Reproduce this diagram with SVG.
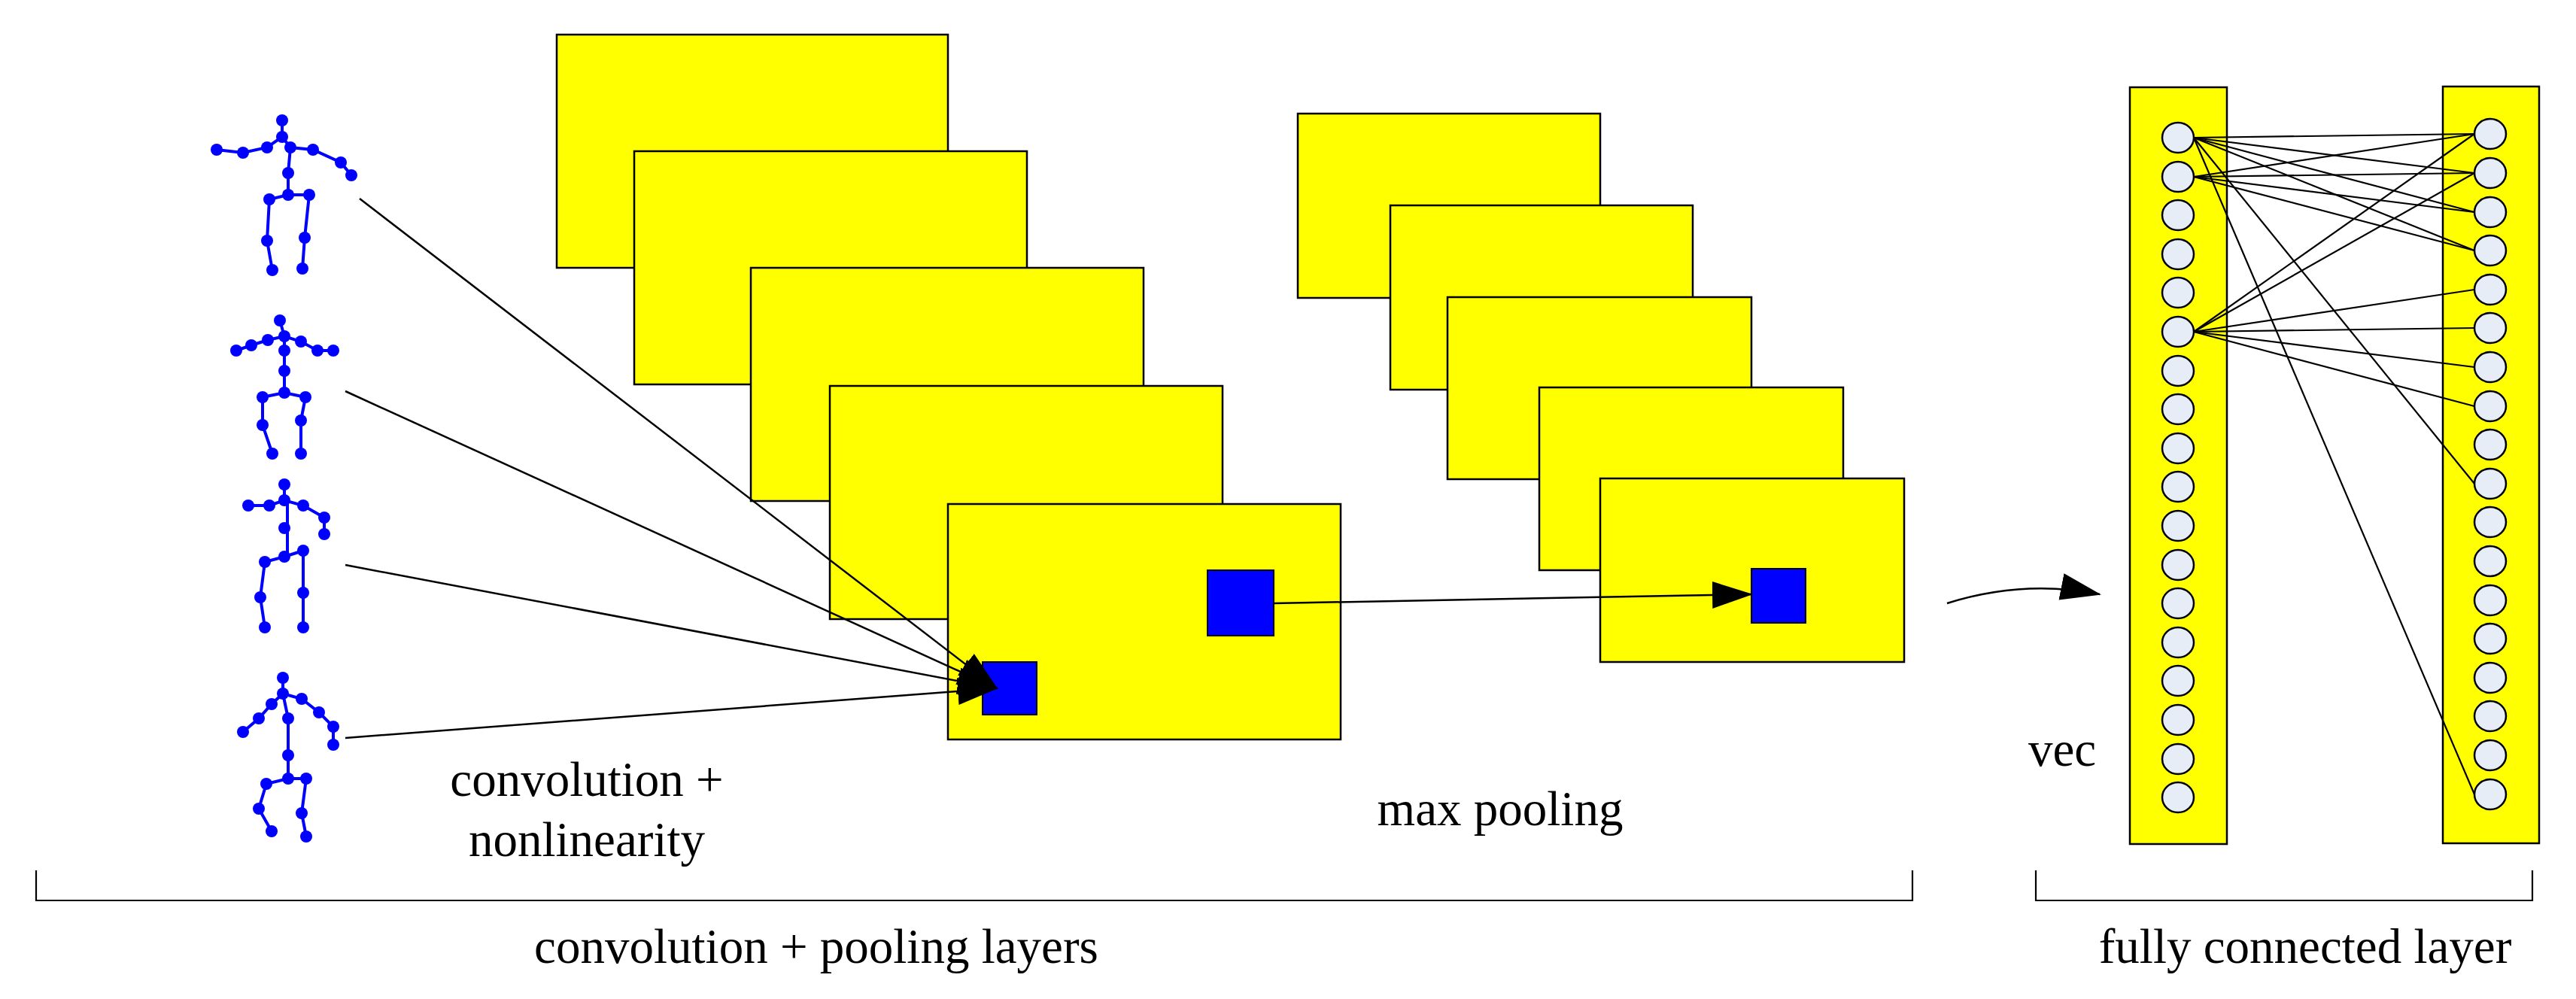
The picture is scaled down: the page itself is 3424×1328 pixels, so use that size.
<svg xmlns="http://www.w3.org/2000/svg" width="3424" height="1328" viewBox="0 0 3424 1328">
<style>
.map{fill:#ffff00;stroke:#000;stroke-width:2.5}
.sq{fill:#0000ff;stroke:#000;stroke-width:2}
.ln{stroke:#000;stroke-width:2.5;fill:none}
.fl{stroke:#000;stroke-width:2.2;fill:none}
.neu{fill:#e6edf7;stroke:#000;stroke-width:2.5}
.sk{stroke:#0000ff;stroke-width:4;fill:none}
.j{fill:#0000ff}
text{font-family:"Liberation Serif",serif;font-size:65px;fill:#000}
</style>
<defs>
<marker id="ah" markerUnits="userSpaceOnUse" markerWidth="60" markerHeight="40" refX="52" refY="18" orient="auto">
<path d="M0,0 L54,18 L0,36 z" fill="#000"/>
</marker>
</defs>

<g id="skeleton1">
<polyline class="sk" points="375,160 375,182 355,196 323,203 288,199"/>
<polyline class="sk" points="375,182 386,196 416,199 453,216 467,233"/>
<polyline class="sk" points="386,196 383,230 383,259"/>
<polyline class="sk" points="411,259 383,259 358,265 355,320 362,359"/>
<polyline class="sk" points="411,259 405,316 402,357"/>
<g class="j"><circle cx="375" cy="160" r="8"/><circle cx="375" cy="182" r="8"/><circle cx="355" cy="196" r="8"/><circle cx="323" cy="203" r="8"/><circle cx="288" cy="199" r="8"/><circle cx="386" cy="196" r="8"/><circle cx="416" cy="199" r="8"/><circle cx="453" cy="216" r="8"/><circle cx="467" cy="233" r="8"/><circle cx="383" cy="230" r="8"/><circle cx="383" cy="259" r="8"/><circle cx="358" cy="265" r="8"/><circle cx="355" cy="320" r="8"/><circle cx="362" cy="359" r="8"/><circle cx="411" cy="259" r="8"/><circle cx="405" cy="316" r="8"/><circle cx="402" cy="357" r="8"/></g>
</g>
<g id="skeleton2">
<polyline class="sk" points="372,426 378,447"/>
<polyline class="sk" points="314,466 334,459 356,452 378,447 400,454 422,466 443,466"/>
<polyline class="sk" points="378,447 378,466 378,493 378,522"/>
<polyline class="sk" points="406,528 378,522 349,528 349,565 362,603"/>
<polyline class="sk" points="406,528 400,559 400,603"/>
<g class="j"><circle cx="372" cy="426" r="8"/><circle cx="378" cy="447" r="8"/><circle cx="356" cy="452" r="8"/><circle cx="334" cy="459" r="8"/><circle cx="314" cy="466" r="8"/><circle cx="400" cy="454" r="8"/><circle cx="422" cy="466" r="8"/><circle cx="443" cy="466" r="8"/><circle cx="378" cy="466" r="8"/><circle cx="378" cy="493" r="8"/><circle cx="378" cy="522" r="8"/><circle cx="349" cy="528" r="8"/><circle cx="349" cy="565" r="8"/><circle cx="362" cy="603" r="8"/><circle cx="406" cy="528" r="8"/><circle cx="400" cy="559" r="8"/><circle cx="400" cy="603" r="8"/></g>
</g>
<g id="skeleton3">
<polyline class="sk" points="378,644 378,665"/>
<polyline class="sk" points="330,672 358,672 378,665 403,672 431,688 431,710"/>
<polyline class="sk" points="382,665 382,702 382,740"/>
<polyline class="sk" points="403,732 378,740 352,747 346,794 352,834"/>
<polyline class="sk" points="403,732 403,788 403,834"/>
<g class="j"><circle cx="378" cy="644" r="8"/><circle cx="378" cy="665" r="8"/><circle cx="358" cy="672" r="8"/><circle cx="330" cy="672" r="8"/><circle cx="403" cy="672" r="8"/><circle cx="431" cy="688" r="8"/><circle cx="431" cy="710" r="8"/><circle cx="378" cy="702" r="8"/><circle cx="378" cy="740" r="8"/><circle cx="352" cy="747" r="8"/><circle cx="346" cy="794" r="8"/><circle cx="352" cy="834" r="8"/><circle cx="403" cy="732" r="8"/><circle cx="403" cy="788" r="8"/><circle cx="403" cy="834" r="8"/></g>
</g>
<g id="skeleton4">
<polyline class="sk" points="376,901 376,922"/>
<polyline class="sk" points="323,973 344,955 361,936 376,922 401,929 424,947 443,966 443,990"/>
<polyline class="sk" points="376,922 383,955 383,1004 383,1035"/>
<polyline class="sk" points="407,1035 383,1035 354,1042 344,1075 361,1105"/>
<polyline class="sk" points="407,1035 401,1081 407,1112"/>
<g class="j"><circle cx="376" cy="901" r="8"/><circle cx="376" cy="922" r="8"/><circle cx="361" cy="936" r="8"/><circle cx="344" cy="955" r="8"/><circle cx="323" cy="973" r="8"/><circle cx="401" cy="929" r="8"/><circle cx="424" cy="947" r="8"/><circle cx="443" cy="966" r="8"/><circle cx="443" cy="990" r="8"/><circle cx="383" cy="955" r="8"/><circle cx="383" cy="1004" r="8"/><circle cx="383" cy="1035" r="8"/><circle cx="354" cy="1042" r="8"/><circle cx="344" cy="1075" r="8"/><circle cx="361" cy="1105" r="8"/><circle cx="407" cy="1035" r="8"/><circle cx="401" cy="1081" r="8"/><circle cx="407" cy="1112" r="8"/></g>
</g>

<g id="conv-maps">
<rect class="map" x="740" y="46" width="520" height="310"/>
<rect class="map" x="843" y="201" width="522" height="310"/>
<rect class="map" x="998" y="356" width="522" height="310"/>
<rect class="map" x="1103" y="513" width="522" height="310"/>
<rect class="map" x="1260" y="670" width="522" height="313"/>
<rect class="sq" x="1306" y="880" width="72" height="70"/>
<rect class="sq" x="1605" y="758" width="88" height="87"/>
</g>
<g id="pool-maps">
<rect class="map" x="1725" y="151" width="402" height="245"/>
<rect class="map" x="1848" y="273" width="402" height="245"/>
<rect class="map" x="1924" y="395" width="404" height="242"/>
<rect class="map" x="2046" y="515" width="404" height="243"/>
<rect class="map" x="2127" y="636" width="404" height="244"/>
<rect class="sq" x="2328" y="756" width="72" height="72"/>
</g>

<g id="fc-in">
<rect class="map" x="2831" y="116" width="129" height="1006"/>
<g class="neu">
<ellipse cx="2895" cy="183" rx="21" ry="20"/><ellipse cx="2895" cy="235" rx="21" ry="20"/><ellipse cx="2895" cy="286" rx="21" ry="20"/><ellipse cx="2895" cy="338" rx="21" ry="20"/><ellipse cx="2895" cy="389" rx="21" ry="20"/><ellipse cx="2895" cy="441" rx="21" ry="20"/><ellipse cx="2895" cy="493" rx="21" ry="20"/><ellipse cx="2895" cy="544" rx="21" ry="20"/><ellipse cx="2895" cy="596" rx="21" ry="20"/><ellipse cx="2895" cy="647" rx="21" ry="20"/><ellipse cx="2895" cy="699" rx="21" ry="20"/><ellipse cx="2895" cy="751" rx="21" ry="20"/><ellipse cx="2895" cy="802" rx="21" ry="20"/><ellipse cx="2895" cy="854" rx="21" ry="20"/><ellipse cx="2895" cy="905" rx="21" ry="20"/><ellipse cx="2895" cy="957" rx="21" ry="20"/><ellipse cx="2895" cy="1009" rx="21" ry="20"/><ellipse cx="2895" cy="1060" rx="21" ry="20"/>
</g>
</g>
<g id="fc-out">
<rect class="map" x="3247" y="115" width="128" height="1006"/>
<g class="neu">
<ellipse cx="3310" cy="178" rx="21" ry="20"/><ellipse cx="3310" cy="230" rx="21" ry="20"/><ellipse cx="3310" cy="282" rx="21" ry="20"/><ellipse cx="3310" cy="333" rx="21" ry="20"/><ellipse cx="3310" cy="385" rx="21" ry="20"/><ellipse cx="3310" cy="436" rx="21" ry="20"/><ellipse cx="3310" cy="488" rx="21" ry="20"/><ellipse cx="3310" cy="540" rx="21" ry="20"/><ellipse cx="3310" cy="591" rx="21" ry="20"/><ellipse cx="3310" cy="643" rx="21" ry="20"/><ellipse cx="3310" cy="694" rx="21" ry="20"/><ellipse cx="3310" cy="746" rx="21" ry="20"/><ellipse cx="3310" cy="798" rx="21" ry="20"/><ellipse cx="3310" cy="849" rx="21" ry="20"/><ellipse cx="3310" cy="901" rx="21" ry="20"/><ellipse cx="3310" cy="952" rx="21" ry="20"/><ellipse cx="3310" cy="1004" rx="21" ry="20"/><ellipse cx="3310" cy="1056" rx="21" ry="20"/>
</g>
</g>

<g id="connectors">
<line class="ln" x1="478" y1="264" x2="1325" y2="915" marker-end="url(#ah)"/>
<line class="ln" x1="459" y1="520" x2="1325" y2="915" marker-end="url(#ah)"/>
<line class="ln" x1="459" y1="751" x2="1325" y2="915" marker-end="url(#ah)"/>
<line class="ln" x1="459" y1="981" x2="1325" y2="915" marker-end="url(#ah)"/>
<line class="ln" x1="1693" y1="802" x2="2328" y2="790" marker-end="url(#ah)"/>
<path class="ln" d="M2588,802 Q2690,770 2791,790" marker-end="url(#ah)"/>
<g class="fl">
<line x1="2916" y1="183" x2="3289" y2="178"/><line x1="2916" y1="183" x2="3289" y2="230"/><line x1="2916" y1="183" x2="3289" y2="282"/><line x1="2916" y1="183" x2="3289" y2="333"/><line x1="2916" y1="183" x2="3289" y2="643"/><line x1="2916" y1="183" x2="3289" y2="1056"/>
<line x1="2916" y1="235" x2="3289" y2="178"/><line x1="2916" y1="235" x2="3289" y2="230"/><line x1="2916" y1="235" x2="3289" y2="282"/><line x1="2916" y1="235" x2="3289" y2="333"/>
<line x1="2916" y1="441" x2="3289" y2="178"/><line x1="2916" y1="441" x2="3289" y2="230"/><line x1="2916" y1="441" x2="3289" y2="385"/><line x1="2916" y1="441" x2="3289" y2="436"/><line x1="2916" y1="441" x2="3289" y2="488"/><line x1="2916" y1="441" x2="3289" y2="540"/>
</g>
<path class="fl" d="M48,1157 V1197 H2542 V1157"/>
<path class="fl" d="M2706,1157 V1197 H3366 V1157"/>
</g>

<g id="labels">
<text x="780" y="1058" text-anchor="middle">convolution +</text>
<text x="780" y="1138" text-anchor="middle">nonlinearity</text>
<text x="1994" y="1097" text-anchor="middle">max pooling</text>
<text x="2741" y="1018" text-anchor="middle">vec</text>
<text x="1085" y="1280" text-anchor="middle">convolution + pooling layers</text>
<text x="3064" y="1280" text-anchor="middle">fully connected layer</text>
</g>
</svg>
